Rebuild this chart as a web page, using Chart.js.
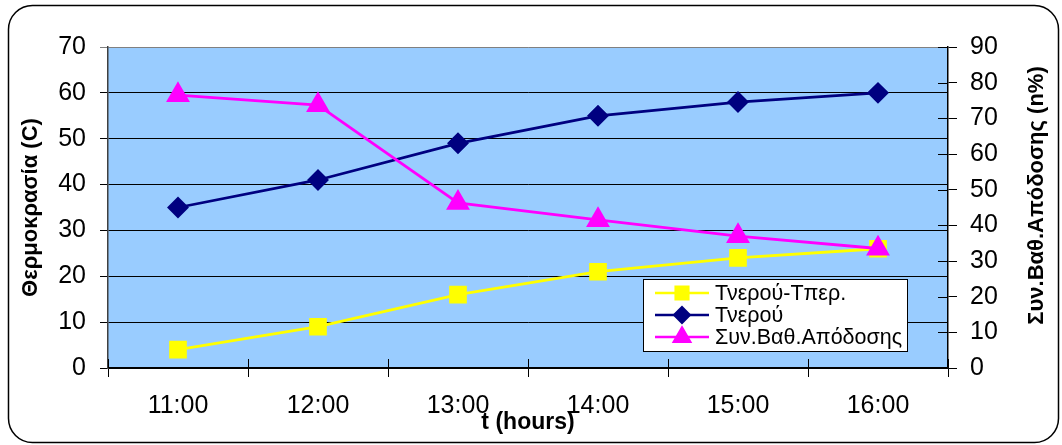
<!DOCTYPE html>
<html>
<head>
<meta charset="utf-8">
<style>
  html, body { margin: 0; padding: 0; background: #ffffff; }
  #wrap { position: relative; width: 1062px; height: 445px; }
</style>
<script src="https://cdn.jsdelivr.net/npm/chart.js@4.4.1/dist/chart.umd.min.js"></script>
</head>
<body>
<div id="wrap"><canvas id="chart" width="1062" height="445"></canvas></div>
<script>
// Hourly readings
const times = ['11:00', '12:00', '13:00', '14:00', '15:00', '16:00'];
const tempDiff = [4, 9, 16, 21, 24, 26];            // Τνερού-Τπερ. (C)
const tempWater = [35, 41, 49, 55, 58, 60];         // Τνερού (C)
const efficiency = [76.5, 73.7, 46.3, 41.5, 37.0, 33.5]; // Συν.Βαθ.Απόδοσης (n%)

const seriesNames = ['Τνερού-Τπερ.', 'Τνερού', 'Συν.Βαθ.Απόδοσης'];
const leftTitle = 'Θερμοκρασία (C)';
const rightTitle = 'Συν.Βαθ.Απόδοσης (n%)';
const xTitle = 't (hours)';

const FONT = '"Liberation Sans", Arial, sans-serif';
const PLOT_BG = '#99CCFF';

// Plot frame, rotated/axis titles, inner tick halves, legend and outer frame
const decor = {
  id: 'decor',
  beforeDraw(chart) {
    const { ctx, chartArea: a } = chart;
    ctx.save();
    ctx.fillStyle = PLOT_BG;
    ctx.fillRect(a.left, a.top, a.right - a.left, a.bottom - a.top);
    ctx.restore();
  },
  beforeDatasetsDraw(chart) {
    const { ctx, chartArea: a, scales } = chart;
    ctx.save();
    ctx.strokeStyle = '#000';
    ctx.lineWidth = 1;
    // right axis ticks reach into the plot
    scales.y1.ticks.forEach((t) => {
      const y = Math.round(scales.y1.getPixelForValue(t.value)) + 0.5;
      ctx.beginPath();
      ctx.moveTo(a.right - 10, y);
      ctx.lineTo(a.right, y);
      ctx.stroke();
    });
    // category boundary ticks reach into the plot
    const n = times.length;
    for (let i = 0; i <= n; i++) {
      const x = Math.round(scales.x.getPixelForValue(i - 0.5)) + 0.5;
      ctx.beginPath();
      ctx.moveTo(x, a.bottom - 9);
      ctx.lineTo(x, a.bottom);
      ctx.stroke();
    }
    ctx.restore();
  },
  afterDraw(chart) {
    const { ctx, chartArea: a } = chart;
    ctx.save();
    ctx.fillStyle = '#000';
    ctx.textAlign = 'center';
    ctx.textBaseline = 'middle';
    ctx.font = 'bold 22px ' + FONT;
    const midY = (a.top + a.bottom) / 2;
    ctx.save();
    ctx.translate(31, midY);
    ctx.rotate(-Math.PI / 2);
    ctx.fillText(leftTitle, 0, 0);
    ctx.restore();
    ctx.save();
    ctx.translate(1037, midY - 12);
    ctx.rotate(-Math.PI / 2);
    ctx.fillText(rightTitle, 0, 0);
    ctx.restore();
    ctx.font = 'bold 23px ' + FONT;
    ctx.fillText(xTitle, (a.left + a.right) / 2, 423);

    // legend box
    const bx = 643, by = 279, bw = 264, bh = 72;
    ctx.fillStyle = '#fff';
    ctx.fillRect(bx, by, bw, bh);
    ctx.strokeStyle = '#000';
    ctx.lineWidth = 1;
    ctx.strokeRect(bx + 0.5, by + 0.5, bw, bh);
    const order = [0, 1, 2];
    order.forEach((di, row) => {
      const ds = chart.data.datasets[di];
      const y = by + 14 + row * 22;
      ctx.strokeStyle = ds.borderColor;
      ctx.lineWidth = 2.5;
      ctx.beginPath();
      ctx.moveTo(655, y);
      ctx.lineTo(709, y);
      ctx.stroke();
      ctx.fillStyle = ds.pointBackgroundColor;
      ctx.strokeStyle = ds.pointBorderColor;
      Chart.helpers.drawPoint(ctx, {
        pointStyle: ds.pointStyle,
        radius: ds.pointRadius * 0.85,
        rotation: 0,
        borderWidth: 1
      }, 682, y);
      ctx.fillStyle = '#000';
      ctx.textAlign = 'left';
      ctx.font = '21.5px ' + FONT;
      ctx.fillText(seriesNames[di], 715, y + 1);
    });

    // rounded outer frame
    ctx.strokeStyle = '#000';
    ctx.lineWidth = 1.5;
    ctx.beginPath();
    ctx.roundRect(8.5, 5.5, 1050, 437, 24);
    ctx.stroke();
    ctx.restore();
  }
};

new Chart(document.getElementById('chart'), {
  type: 'line',
  data: {
    labels: times,
    datasets: [
      {
        label: seriesNames[0],
        data: tempDiff,
        yAxisID: 'y',
        borderColor: '#FFFF00',
        backgroundColor: '#FFFF00',
        pointBackgroundColor: '#FFFF00',
        pointBorderColor: '#FFFF00',
        pointStyle: 'rect',
        pointRadius: 10.5,
        borderWidth: 2.8,
        order: 3
      },
      {
        label: seriesNames[1],
        data: tempWater,
        yAxisID: 'y',
        borderColor: '#000080',
        backgroundColor: '#000080',
        pointBackgroundColor: '#000080',
        pointBorderColor: '#000080',
        pointStyle: 'rectRot',
        pointRadius: 9,
        borderWidth: 2.8,
        order: 2
      },
      {
        label: seriesNames[2],
        data: efficiency,
        yAxisID: 'y1',
        borderColor: '#FF00FF',
        backgroundColor: '#FF00FF',
        pointBackgroundColor: '#FF00FF',
        pointBorderColor: '#FF00FF',
        pointStyle: 'triangle',
        pointRadius: 11,
        borderWidth: 2.8,
        order: 1
      }
    ]
  },
  options: {
    responsive: false,
    animation: false,
    devicePixelRatio: 1,
    layout: { padding: { top: 47, left: 0, right: 0, bottom: 0 } },
    plugins: { legend: { display: false }, tooltip: { enabled: false }, title: { display: false } },
    elements: { line: { tension: 0 } },
    scales: {
      x: {
        offset: true,
        grid: { offset: true, drawOnChartArea: false, tickLength: 9, color: '#000', lineWidth: 1 },
        border: { color: '#000', width: 1.5 },
        ticks: { color: '#000', font: { family: FONT, size: 25 }, padding: 14, maxRotation: 0 },
        afterFit(s) { s.height = 77; }
      },
      y: {
        position: 'left',
        min: 0, max: 70,
        ticks: { stepSize: 10, color: '#000', font: { family: FONT, size: 25 }, padding: 14 },
        grid: {
          color: (c) => (c.tick && c.tick.value === 70 ? '#808080' : '#000'),
          lineWidth: 1,
          tickLength: 8
        },
        border: { color: '#404040', width: 1.5 },
        afterFit(s) { s.width = 108; }
      },
      y1: {
        position: 'right',
        min: 0, max: 90,
        ticks: { stepSize: 10, color: '#000', font: { family: FONT, size: 25 }, padding: 13 },
        grid: { drawOnChartArea: false, tickLength: 9, color: '#000', lineWidth: 1 },
        border: { color: '#000', width: 1.5 },
        afterFit(s) { s.width = 114; }
      }
    }
  },
  plugins: [decor]
});
</script>
</body>
</html>
